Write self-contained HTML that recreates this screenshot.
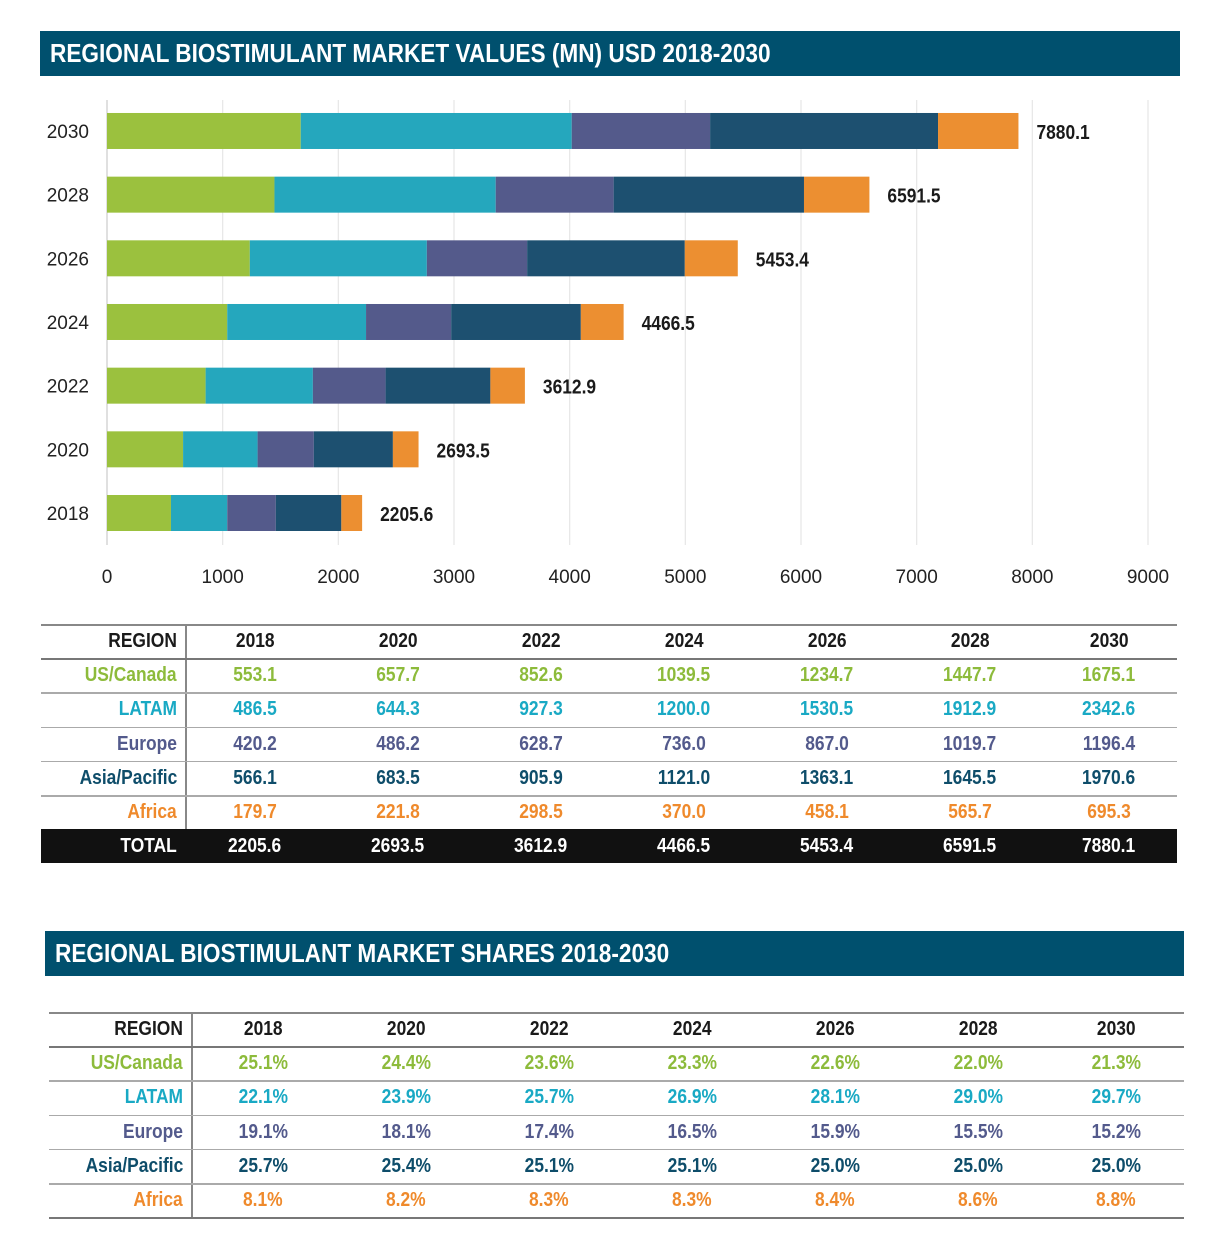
<!DOCTYPE html>
<html><head><meta charset="utf-8">
<style>
body{margin:0;width:1216px;height:1250px;background:#fff;position:relative;overflow:hidden;font-family:"Liberation Sans",sans-serif;font-weight:bold}
.title{position:absolute;background:#00506e;color:#fff;font-size:26px;line-height:45px;padding-left:10px;box-sizing:border-box;white-space:nowrap}
.title span{display:inline-block;transform:scaleX(0.87);transform-origin:left center}
.cell{position:absolute;font-size:20px;line-height:34px;white-space:nowrap}
.cell span{display:inline-block;transform:scaleX(0.87)}
.hl{position:absolute;height:1.5px;background:#888}
.vl{position:absolute;width:1.5px;background:#888}
</style></head><body>
<div class="title" style="left:40px;top:31px;width:1140px;height:45px"><span>REGIONAL BIOSTIMULANT MARKET VALUES (MN) USD 2018-2030</span></div>
<svg id="chart" width="1216" height="600" style="position:absolute;left:0;top:0;font-weight:normal" font-family="Liberation Sans, sans-serif"></svg>
<div id="t1"></div>
<div class="title" style="left:45px;top:931px;width:1139px;height:45px"><span>REGIONAL BIOSTIMULANT MARKET SHARES 2018-2030</span></div>
<div id="t2"></div>
<script>
const years=["2018","2020","2022","2024","2026","2028","2030"];
const regions=["US/Canada","LATAM","Europe","Asia/Pacific","Africa"];
const usCanada=[553.1,657.7,852.6,1039.5,1234.7,1447.7,1675.1];
const latam=[486.5,644.3,927.3,1200.0,1530.5,1912.9,2342.6];
const europe=[420.2,486.2,628.7,736.0,867.0,1019.7,1196.4];
const asiaPacific=[566.1,683.5,905.9,1121.0,1363.1,1645.5,1970.6];
const africa=[179.7,221.8,298.5,370.0,458.1,565.7,695.3];
const totals=[2205.6,2693.5,3612.9,4466.5,5453.4,6591.5,7880.1];
const shUS=["25.1%","24.4%","23.6%","23.3%","22.6%","22.0%","21.3%"];
const shLA=["22.1%","23.9%","25.7%","26.9%","28.1%","29.0%","29.7%"];
const shEU=["19.1%","18.1%","17.4%","16.5%","15.9%","15.5%","15.2%"];
const shAP=["25.7%","25.4%","25.1%","25.1%","25.0%","25.0%","25.0%"];
const shAF=["8.1%","8.2%","8.3%","8.3%","8.4%","8.6%","8.8%"];
const xTicks=[0,1000,2000,3000,4000,5000,6000,7000,8000,9000];

const barColors=["#9bc13e","#25a7bd","#545a8b","#1d5070","#ec8f31"];
const textColors=["#8dbb3b","#19a9c4","#535a8c","#0e4d6a","#ef8a2c"];
const series=[usCanada,latam,europe,asiaPacific,africa];
const NS="http://www.w3.org/2000/svg";
const svg=document.getElementById('chart');
const xs=v=>107+v*(1148-107)/9000;
const ys=i=>513-i*63.67;
function mk(tag,attrs,parent){const e=document.createElementNS(NS,tag);for(const k in attrs)e.setAttribute(k,attrs[k]);(parent||svg).appendChild(e);return e;}
xTicks.forEach(t=>{
  const g=mk('line',{x1:xs(t),x2:xs(t),y1:100,y2:545,stroke:t===0?'#ccc':'#e6e6e6','stroke-width':1.2});
  
  
  const l=mk('text',{x:xs(t),y:583,'text-anchor':'middle','font-size':19,fill:'#222'});
  l.textContent=t;
  
  
});
years.forEach((y,i)=>{
  const cy=ys(i);
  const yl=mk('text',{x:89,y:cy+7,'text-anchor':'end','font-size':19,fill:'#222'});
  yl.textContent=y;
  
  
  let acc=0;
  series.forEach((s,k)=>{
    const r=mk('rect',{x:xs(acc),y:cy-18,width:xs(acc+s[i])-xs(acc),height:36,fill:barColors[k]});
    
    
    acc+=s[i];
  });
  const vl=mk('text',{x:0,y:0,transform:'translate('+(xs(totals[i])+18)+','+(cy+8)+') scale(0.87,1)','font-size':20,'font-weight':'bold',fill:'#1a1a1a'});
  vl.textContent=totals[i].toFixed(1);
  
  
});

function addDiv(parent,cls,style,text,origin){const d=document.createElement('div');d.className=cls;Object.assign(d.style,style);if(text!==undefined){const s=document.createElement('span');s.textContent=text;s.style.transformOrigin=origin||'center';d.appendChild(s);}parent.appendChild(d);return d;}
function table(id,left,right,top,vx,colX,rows,total){
  const p=document.getElementById(id);
  const rowH=34.2;
  const hl=addDiv(p,'hl',{left:left+'px',top:top+'px',width:(right-left)+'px'});
  
  
  const hd=addDiv(p,'cell',{left:(vx-200)+'px',width:'192px',textAlign:'right',top:top+'px',color:'#1a1a1a'},'REGION','right center');
  
  
  years.forEach((y,j)=>{
    const c=addDiv(p,'cell',{left:(colX[j]-50)+'px',width:'100px',textAlign:'center',top:top+'px',color:'#1a1a1a'},y);
    
    
  });
  const vl=addDiv(p,'vl',{left:vx+'px',top:top+'px',height:(rowH*(rows.length+1))+'px'});
  
  
  rows.forEach((r,i)=>{
    const ty=top+rowH*(i+1);
    const rl=addDiv(p,'hl',{left:left+'px',top:ty+'px',width:(right-left)+'px',background:i===0?'#777':'#aaa'});
    
    
    const lab=addDiv(p,'cell',{left:(vx-200)+'px',width:'192px',textAlign:'right',top:ty+'px',color:textColors[i]},regions[i],'right center');
    
    
    r.forEach((v,j)=>{
      const c=addDiv(p,'cell',{left:(colX[j]-50)+'px',width:'100px',textAlign:'center',top:ty+'px',color:textColors[i]},typeof v==='number'?v.toFixed(1):v);
      
      
    });
  });
  const by=top+rowH*(rows.length+1);
  if(total){
    const bar=addDiv(p,'',{position:'absolute',left:left+'px',top:by+'px',width:(right-left)+'px',height:'34px',background:'#111'});
    
    
    const tl=addDiv(p,'cell',{left:(vx-200)+'px',width:'192px',textAlign:'right',top:by+'px',color:'#fff'},'TOTAL','right center');
    
    
    total.forEach((v,j)=>{
      const c=addDiv(p,'cell',{left:(colX[j]-50)+'px',width:'100px',textAlign:'center',top:by+'px',color:'#fff'},v.toFixed(1));
      
      
    });
  } else {
    const bl=addDiv(p,'hl',{left:left+'px',top:by+'px',width:(right-left)+'px',background:'#777'});
    
    
  }
}
table('t1',41,1177,624,185,[255,398,541,684,827,970,1109],[usCanada,latam,europe,asiaPacific,africa],totals);
table('t2',49,1184,1012,191,[263,406,549,692,835,978,1116],[shUS,shLA,shEU,shAP,shAF],null);
</script>
</body></html>
